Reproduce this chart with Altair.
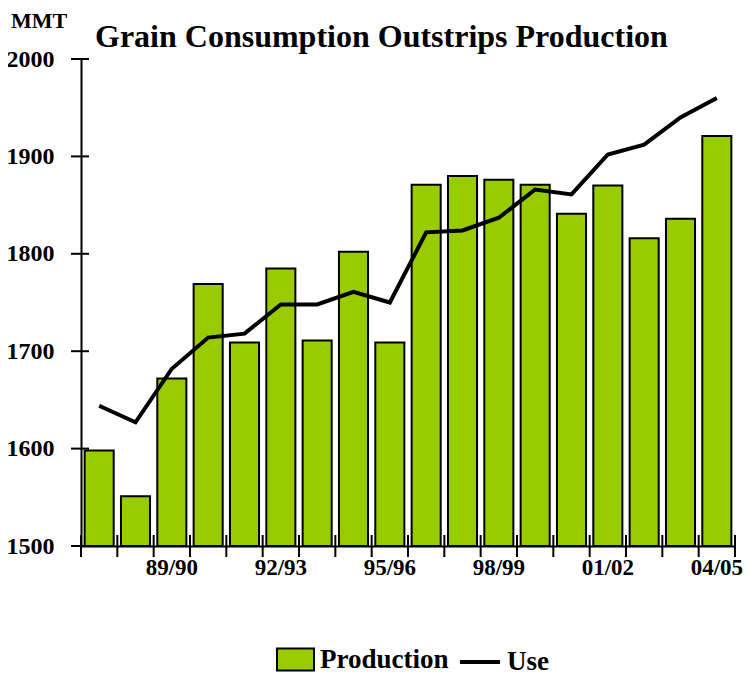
import altair as alt
import pandas as pd

seasons = ["87/88", "88/89", "89/90", "90/91", "91/92", "92/93", "93/94", "94/95", "95/96",
           "96/97", "97/98", "98/99", "99/00", "00/01", "01/02", "02/03", "03/04", "04/05"]
production = [1598, 1551, 1672, 1769, 1709, 1785, 1711, 1802, 1709,
              1871, 1880, 1876, 1871, 1841, 1870, 1816, 1836, 1921]
use = [1644, 1627, 1682, 1714, 1718, 1748, 1748, 1761, 1750,
       1822, 1824, 1837, 1866, 1861, 1902, 1912, 1940, 1960]
y_ticks = [1500, 1600, 1700, 1800, 1900, 2000]
shown_labels = ["89/90", "92/93", "95/96", "98/99", "01/02", "04/05"]
title_text = "Grain Consumption Outstrips Production"
unit_text = "MMT"

FONT = "Liberation Serif"
W, H = 654, 487
GREEN = "#99CC00"

n = len(seasons)
df = pd.DataFrame({
    "season": seasons,
    "production": production,
    "use": use,
    "x0": [i + 0.1 for i in range(n)],
    "x1": [i + 0.9 for i in range(n)],
    "xc": [i + 0.5 for i in range(n)],
    "pser": ["Production"] * n,
    "user": ["Use"] * n,
})
lab_df = df[df["season"].isin(shown_labels)]
bounds = pd.DataFrame({"b": list(range(n + 1))})
yt = pd.DataFrame({"v": y_ticks})

xscale = alt.Scale(domain=[0, n], nice=False, zero=False)
yscale = alt.Scale(domain=[1500, 2000], nice=False, zero=False)

xaxis = alt.Axis(domain=True, domainColor="black", domainWidth=2, ticks=False,
                 labels=False, grid=False, title=None)
yaxis = alt.Axis(domain=True, domainColor="black", domainWidth=2, ticks=False, tickSize=0,
                 values=y_ticks, format="d", labelFont=FONT, labelFontWeight="bold",
                 labelFontSize=24, labelColor="black", labelPadding=27, grid=False, title=None)

bars = alt.Chart(df).mark_bar(stroke="black", strokeWidth=2).encode(
    x=alt.X("x0:Q", scale=xscale, axis=xaxis),
    x2="x1:Q",
    y=alt.Y("production:Q", scale=yscale, axis=yaxis),
    y2=alt.datum(1500),
    fill=alt.Fill("pser:N", scale=alt.Scale(domain=["Production"], range=[GREEN]),
                  legend=alt.Legend(title=None, orient="none", legendX=195, legendY=581,
                                    symbolType="M-1,-0.6H1V0.6H-1Z", symbolSize=1369,
                                    symbolStrokeColor="black", symbolStrokeWidth=2,
                                    symbolOpacity=1, symbolFillColor=GREEN,
                                    labelFont=FONT, labelFontWeight="bold", labelFontSize=27,
                                    labelColor="black", labelOffset=5, padding=0)),
)

line = alt.Chart(df).mark_line(color="black", strokeWidth=4).encode(
    x=alt.X("xc:Q", scale=xscale, axis=xaxis),
    y=alt.Y("use:Q", scale=yscale, axis=yaxis),
    stroke=alt.Stroke("user:N", scale=alt.Scale(domain=["Use"], range=["black"]),
                      legend=alt.Legend(title=None, orient="none", legendX=377, legendY=581,
                                        symbolType="stroke", symbolSize=1600,
                                        symbolStrokeWidth=4, symbolStrokeColor="black",
                                        labelFont=FONT, labelFontWeight="bold", labelFontSize=27,
                                        labelColor="black", labelOffset=5, padding=0)),
)

xticks = alt.Chart(bounds).mark_rule(color="black", strokeWidth=2).encode(
    x=alt.X("b:Q", scale=xscale, axis=xaxis),
    y=alt.value(H - 11),
    y2=alt.value(H + 11),
)

yticks = alt.Chart(yt).mark_rule(color="black", strokeWidth=2).encode(
    y=alt.Y("v:Q", scale=yscale, axis=yaxis),
    x=alt.value(-10),
    x2=alt.value(8),
)

xlabels = alt.Chart(lab_df).mark_text(font=FONT, fontWeight="bold", fontSize=23,
                                      color="black", baseline="middle", align="center").encode(
    x=alt.X("xc:Q", scale=xscale, axis=xaxis),
    y=alt.value(H + 22),
    text="season:N",
)

mmt = alt.Chart(pd.DataFrame({"t": [unit_text]})).mark_text(
    font=FONT, fontWeight="bold", fontSize=22, color="black", align="left",
    baseline="alphabetic").encode(
    x=alt.value(-70), y=alt.value(-31), text="t:N")

title = alt.Chart(pd.DataFrame({"t": [title_text]})).mark_text(
    font=FONT, fontWeight="bold", fontSize=32, color="black", align="left",
    baseline="alphabetic").encode(
    x=alt.value(14), y=alt.value(-12), text="t:N")

chart = alt.layer(bars, line, xticks, yticks, xlabels, mmt, title).properties(
    width=W, height=H,
    autosize=alt.AutoSizeParams(type="none"),
    padding={"left": 73, "top": 51, "right": 10, "bottom": 132},
).configure_view(stroke=None)

chart.save("out.html", embed_options={"renderer": "svg", "actions": False})
